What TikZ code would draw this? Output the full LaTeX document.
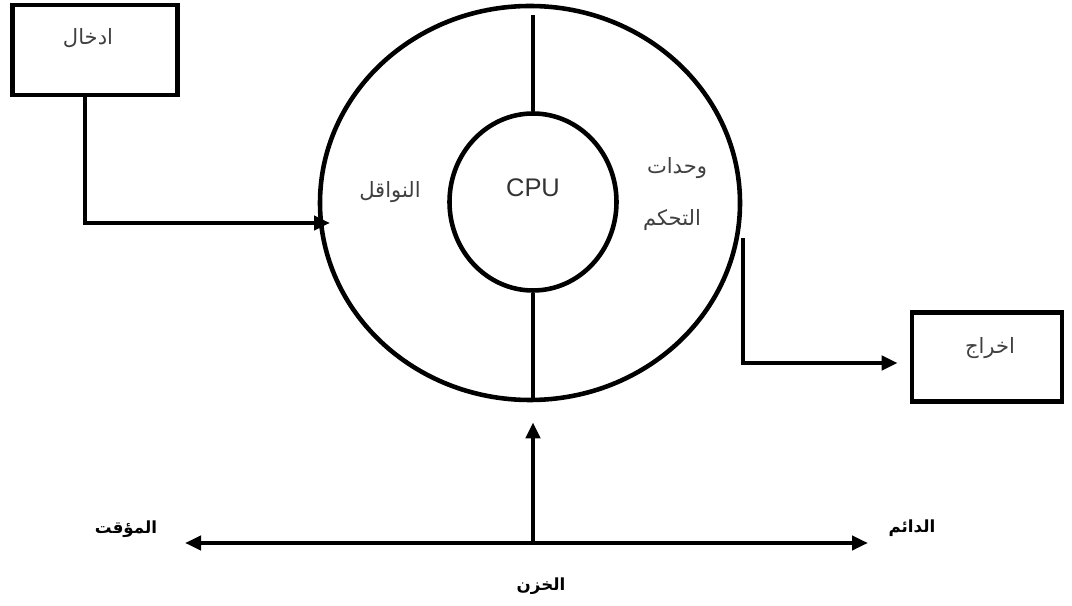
\documentclass[tikz,border=0pt]{standalone}
\usepackage{fontspec}
\setmainfont{Liberation Sans}
\newfontfamily\arabicfont[Script=Arabic]{DejaVu Sans}
\TeXXeTstate=1
\usetikzlibrary{arrows.meta,shapes.geometric,positioning,calc}
\tikzset{every picture/.style={line width=2.6pt}}
\tikzset{
  unitbox/.style={draw, minimum width=33mm, minimum height=18mm, inner sep=0pt},
  ring/.style={draw, ellipse, inner sep=0pt},
  artext/.style={font=\arabicfont\fontsize{12}{14}\selectfont, text=black!75},
  arbold/.style={font=\arabicfont\bfseries\fontsize{9.5}{11}\selectfont},
  flow/.style={-{Triangle[length=3.2mm,width=2.8mm]}},
}

\begin{document}
\begin{tikzpicture}[x=0.2mm,y=-0.2mm]
    \useasboundingbox (0,0) rectangle (1072,606);

    % input and output boxes
    \node[unitbox] (inbox) at (95,50) {};
    \node[artext, anchor=center] (inlbl) at (88,38) {\beginR ادخال\endR};
    \node[unitbox, minimum width=30mm, minimum height=17.8mm] (outbox) at (987,357) {};
    \node[artext] (outlbl) at (990,348) {\beginR اخراج\endR};

    % the two rings
    \node[ring, minimum width=84mm, minimum height=78.8mm] (bus) at (530,203) {};
    \node[ring, minimum width=33.4mm, minimum height=35.4mm] (cpu) at (533,202) {};
    \coordinate (spoketop) at (533,15);
    \draw (cpu.north) -- (spoketop);
    \draw (cpu.south) -- (cpu.south |- bus.south);

    % texts inside
    \node[font=\fontsize{14.5}{16}\selectfont, text=black!80] (cpulbl) at (533,188) {CPU};
    \node[artext] (buslbl) at (390,192) {\beginR النواقل\endR};
    \node[artext] (ctl1) at (677,168) {\beginR وحدات\endR};
    \node[artext] (ctl2) at (672,220) {\beginR التحكم\endR};

    % input line
    \coordinate (inhit) at (330,223);
    \draw[flow] ([xshift=-2mm]inbox.south) |- (inhit);

    % output line
    \coordinate (outstart) at (743,238);
    \draw[flow, shorten >=2.4mm] (outstart) |- (outbox.west |- 0,363);

    % storage
    \coordinate (temp) at (185,543);
    \coordinate (perm) at (868,543);
    \coordinate (storemid) at (533,543);
    \draw[{Triangle[length=3.2mm,width=2.8mm]}-{Triangle[length=3.2mm,width=2.8mm]}] (temp) -- (perm);
    \draw[flow, shorten >=4mm] (storemid) -- (storemid |- bus.south);
    \node[arbold] (templbl) at (126,529) {\beginR المؤقت\endR};
    \node[arbold] (permlbl) at (912,528) {\beginR الدائم\endR};
    \node[arbold] (storelbl) at (541,586) {\beginR الخزن\endR};
\end{tikzpicture}
\end{document}
